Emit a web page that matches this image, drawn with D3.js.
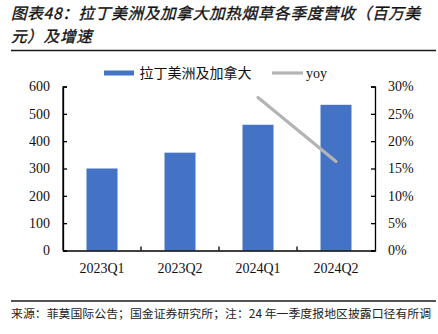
<!DOCTYPE html>
<html><head><meta charset="utf-8">
<script src="https://cdn.jsdelivr.net/npm/d3@7"></script>
<style>body{margin:0;background:#fff}svg{display:block}</style>
</head><body>
<script>
const categories = ["2023Q1","2023Q2","2024Q1","2024Q2"];
const revenue = [300, 358, 460, 533];
const yoyCats = ["2024Q1","2024Q2"];
const yoy = [0.28, 0.163];
const leftTicks = [0,100,200,300,400,500,600];
const rightTicks = [0,0.05,0.10,0.15,0.20,0.25,0.30];
const seriesNames = ["拉丁美洲及加拿大","yoy"];
const titleLines = ["图表48：拉丁美洲及加拿大加热烟草各季度营收（百万美","元）及增速"];
const footnote = "来源：菲莫国际公告；国金证券研究所；注：24 年一季度报地区披露口径有所调";

const W=438,H=334;
const svg=d3.select("body").append("svg").attr("width",W).attr("height",H);
const cjk='"Noto Sans CJK SC","Noto Sans",sans-serif';
const serif='"Liberation Serif","Times New Roman",serif';

// title
svg.selectAll("text.title").data(titleLines).enter().append("text")
 .attr("x",11).attr("y",(d,i)=>19+i*23)
 .attr("font-family",cjk).attr("font-size",15.6).attr("font-weight",400).attr("font-style","italic")
 .attr("stroke","#111").attr("stroke-width",0.35)
 .attr("letter-spacing",0.7).attr("fill","#111").text(d=>d);
svg.append("line").attr("x1",11).attr("x2",436).attr("y1",50.5).attr("y2",50.5).attr("stroke","#1a1a1a").attr("stroke-width",1.5);
svg.append("line").attr("x1",11).attr("x2",436).attr("y1",301).attr("y2",301).attr("stroke","#1a1a1a").attr("stroke-width",1.5);
svg.append("text").attr("x",11).attr("y",318).attr("font-family",cjk).attr("font-size",11.9).attr("fill","#222").text(footnote);

const xb=d3.scaleBand().domain(categories).range([63,375]);
const yL=d3.scaleLinear().domain([0,600]).range([250.5,86.5]);
const yR=d3.scaleLinear().domain([0,0.30]).range([250.5,86.5]);

svg.selectAll("rect.bar").data(revenue).enter().append("rect")
 .attr("x",(d,i)=>xb(categories[i])+xb.bandwidth()/2-15.5).attr("width",31)
 .attr("y",d=>yL(d)).attr("height",d=>yL(0)-yL(d)).attr("fill","#4472C4");

const line=d3.line().x((d,i)=>xb(yoyCats[i])+xb.bandwidth()/2).y(d=>yR(d));
svg.append("path").datum(yoy).attr("d",line).attr("fill","none").attr("stroke","#B4B4B4").attr("stroke-width",3.2).attr("stroke-linecap","round");

// axes
const gl=svg.append("g").attr("transform","translate(63,0)")
 .call(d3.axisRight(yL).tickValues(leftTicks).tickSize(4).tickFormat(""));
const gr=svg.append("g").attr("transform","translate(375,0)")
 .call(d3.axisLeft(yR).tickValues(rightTicks).tickSize(4).tickFormat(""));
const gx=svg.append("g").attr("transform","translate(0,250.5)")
 .call(d3.axisTop(xb).tickSize(0).tickFormat(""));
[gl,gr,gx].forEach(g=>{g.select(".domain").attr("stroke","#000").attr("stroke-width",1.3);g.selectAll("line").attr("stroke","#000").attr("stroke-width",1.3);});
svg.selectAll("line.xt").data(categories.slice(1)).enter().append("line")
 .attr("x1",d=>xb(d)).attr("x2",d=>xb(d)).attr("y1",250.5).attr("y2",246.5).attr("stroke","#000").attr("stroke-width",1.3);
svg.append("line").attr("x1",63).attr("x2",63).attr("y1",86.5).attr("y2",250.5).attr("stroke","#000").attr("stroke-width",1.3);

svg.selectAll("text.yl").data(leftTicks).enter().append("text")
 .attr("x",50).attr("y",d=>yL(d)).attr("dy","0.35em").attr("text-anchor","end")
 .attr("font-family",serif).attr("font-size",14).attr("fill","#111").text(d=>d);
svg.selectAll("text.yr").data(rightTicks).enter().append("text")
 .attr("x",388).attr("y",d=>yR(d)).attr("dy","0.35em").attr("text-anchor","start")
 .attr("font-family",serif).attr("font-size",14).attr("fill","#111").text(d=>Math.round(d*100)+"%");
svg.selectAll("text.xl").data(categories).enter().append("text")
 .attr("x",d=>xb(d)+xb.bandwidth()/2).attr("y",273).attr("text-anchor","middle")
 .attr("font-family",serif).attr("font-size",14).attr("fill","#111").text(d=>d);

// legend
svg.append("rect").attr("x",104).attr("y",70.5).attr("width",30).attr("height",5).attr("fill","#4472C4");
svg.append("text").attr("x",139.5).attr("y",78).attr("font-family",cjk).attr("font-size",14).attr("fill","#111").text(seriesNames[0]);
svg.append("line").attr("x1",272).attr("x2",303).attr("y1",73).attr("y2",73).attr("stroke","#B4B4B4").attr("stroke-width",3.2);
svg.append("text").attr("x",306).attr("y",78).attr("font-family",serif).attr("font-size",14).attr("fill","#111").text(seriesNames[1]);
</script>
</body></html>
